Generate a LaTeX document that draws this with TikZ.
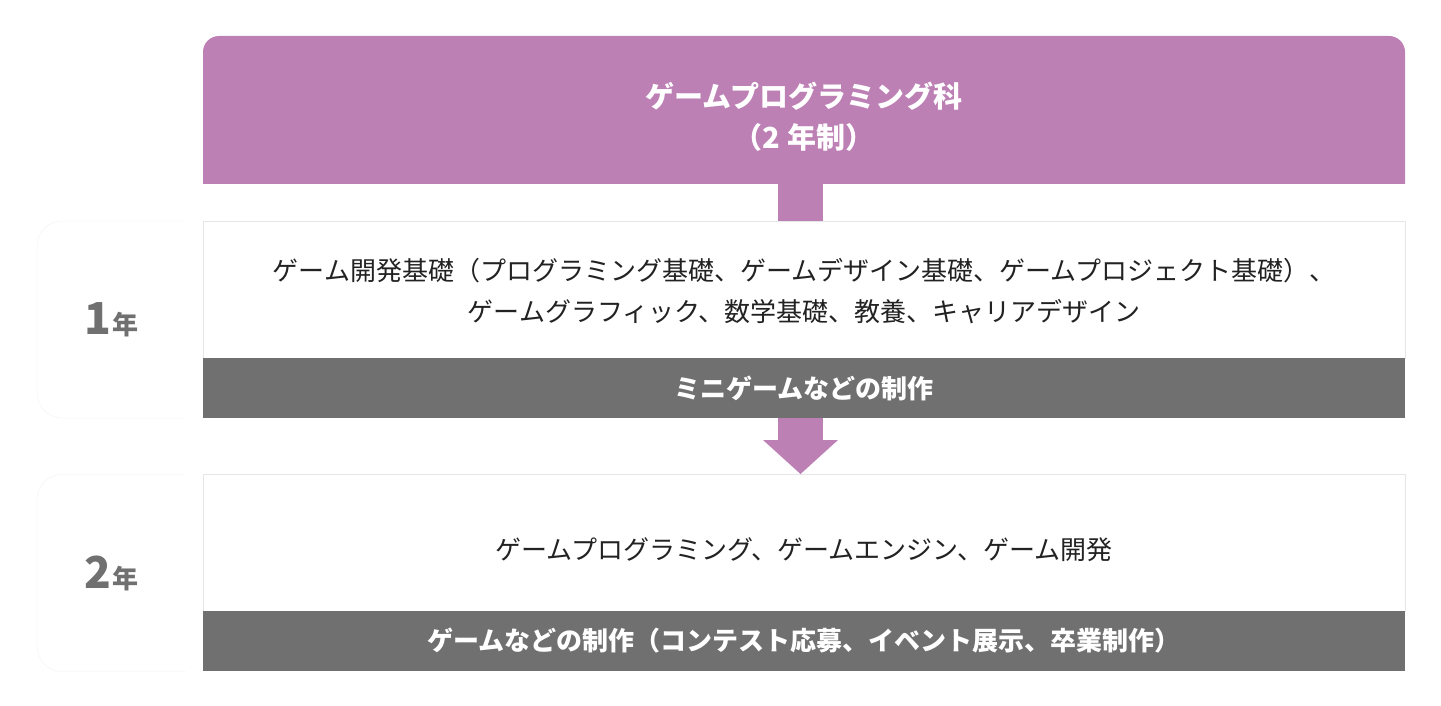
\documentclass[tikz,border=0pt]{standalone}
\usepackage{fontspec}
\setmainfont{Noto Sans CJK JP}
\usetikzlibrary{positioning,arrows.meta,backgrounds}
\definecolor{morado}{HTML}{BD80B4}
\definecolor{gris}{HTML}{707070}
\definecolor{borde}{HTML}{E6E6E6}
\definecolor{tinta}{HTML}{222222}
\tikzstyle{rectmorado} = [rectangle, minimum width=1202pt, minimum height=148pt, text centered, text=white, align=center, inner sep=0pt, outer sep=0pt, font=\fontsize{29}{41}\selectfont\bfseries]
\tikzstyle{rectblanco} = [rectangle, minimum width=1202pt, minimum height=137pt, text centered, draw=borde, fill=white, text=tinta, align=center, inner sep=0pt, outer sep=0pt, font=\fontsize{26}{41}\selectfont]
\tikzstyle{rectgris} = [rectangle, minimum width=1202pt, minimum height=60pt, text centered, fill=gris, text=white, inner sep=0pt, outer sep=0pt, font=\fontsize{26}{32}\selectfont\bfseries]
\tikzstyle{rectanio} = [rectangle, minimum width=149pt, minimum height=197pt, text centered, text=gris, inner sep=0pt, outer sep=0pt, font=\bfseries]
\tikzstyle{tallo} = [draw=morado, line width=45pt]
\tikzstyle{flecha} = [draw=morado, fill=morado, line width=45pt, -{Triangle[width=75pt,length=34pt,line width=0pt]}]

\begin{document}
\begin{tikzpicture}[x=1pt, y=-1pt]
    \useasboundingbox (0,0) rectangle (1441,706);
    	% Cuadros
    	\node (titulo) [rectmorado,text height=80pt,text depth=2pt] at (804,110) {ゲームプログラミング科\\（2 年制）};
    	\node (curso1) [rectblanco,text height=66pt,text depth=3pt] at (804,289.5) {ゲーム開発基礎（プログラミング基礎、ゲームデザイン基礎、ゲームプロジェクト基礎）、\\ゲームグラフィック、数学基礎、教養、キャリアデザイン};
    	\node (obra1) [rectgris,below=0pt of curso1] {ミニゲームなどの制作};
    	\node (curso2) [rectblanco,text height=36pt,text depth=3pt] at (804,542.5) {ゲームプログラミング、ゲームエンジン、ゲーム開発};
    	\node (obra2) [rectgris,below=0pt of curso2] {ゲームなどの制作（コンテスト応募、イベント展示、卒業制作）};
    	\node (anio1) [rectanio] at (111.5,319.5) {{\fontsize{44}{44}\selectfont 1}\,{\fontsize{26}{26}\selectfont 年}};
    	\node (anio2) [rectanio] at (111.5,573) {{\fontsize{44}{44}\selectfont 2}\,{\fontsize{26}{26}\selectfont 年}};
    	% Fondos
    	\begin{scope}[on background layer]
    	    \fill[morado] (titulo.south west) [rounded corners=16pt] -- (titulo.north west) -- (titulo.north east) [sharp corners] -- (titulo.south east) -- cycle;
    	    \filldraw[fill=white, draw=gray!10] (anio1.north east) [rounded corners=25pt] -- (anio1.north west) -- (anio1.south west) [sharp corners] -- (anio1.south east);
    	    \filldraw[fill=white, draw=gray!10] (anio2.north east) [rounded corners=25pt] -- (anio2.north west) -- (anio2.south west) [sharp corners] -- (anio2.south east);
    	\end{scope}
    	% Flechas
        \draw[tallo] ([xshift=-3.5pt]titulo.south) -- ([xshift=-3.5pt]curso1.north);
        \draw[flecha] ([xshift=-3.5pt]obra1.south) -- ([xshift=-3.5pt]curso2.north);
    
    \end{tikzpicture}
\end{document}
